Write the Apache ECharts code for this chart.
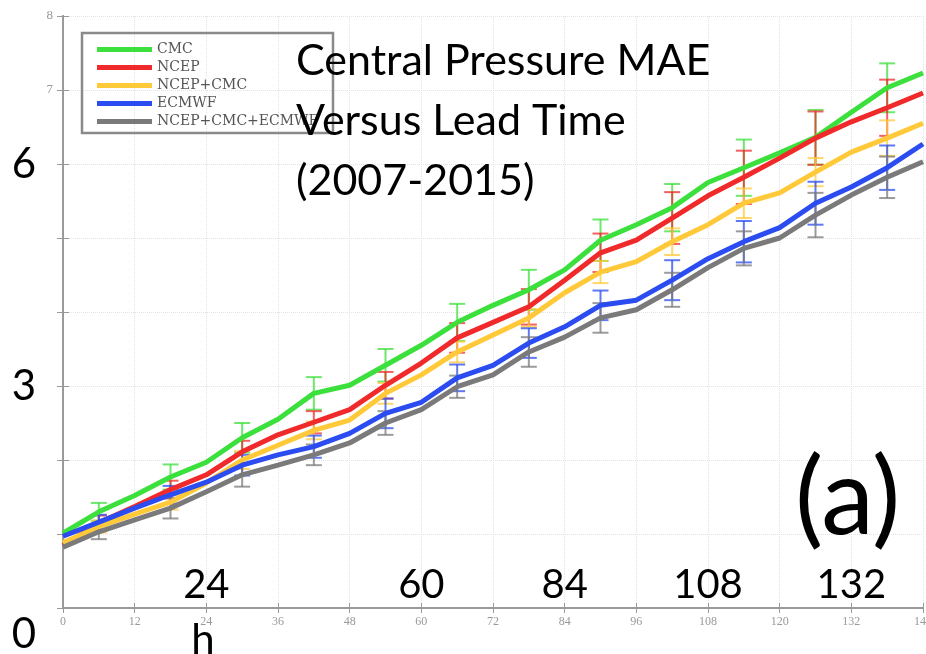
<!DOCTYPE html>
<html>
<head>
<meta charset="utf-8">
<script src="https://cdn.jsdelivr.net/npm/echarts@6/dist/echarts.min.js"></script>
<style>
html, body { margin: 0; padding: 0; background: #fff; }
#chart { width: 926px; height: 654px; }
</style>
</head>
<body>
<div id="chart"></div>
<script>
// lead time in hours, one point every 6 h
var leadTimes = [0, 6, 12, 18, 24, 30, 36, 42, 48, 54, 60, 66, 72, 78, 84, 90, 96, 102, 108, 114, 120, 126, 132, 138, 144];
var cmc      = [1.01, 1.30, 1.52, 1.77, 1.97, 2.30, 2.55, 2.90, 3.01, 3.28, 3.55, 3.86, 4.09, 4.30, 4.57, 4.97, 5.18, 5.41, 5.75, 5.95, 6.15, 6.36, 6.70, 7.03, 7.23];
var ncep     = [0.84, 1.15, 1.37, 1.60, 1.80, 2.11, 2.34, 2.51, 2.68, 3.01, 3.31, 3.65, 3.86, 4.07, 4.43, 4.80, 4.97, 5.27, 5.57, 5.82, 6.08, 6.35, 6.57, 6.76, 6.96];
var ncepCmc  = [0.88, 1.10, 1.27, 1.43, 1.69, 2.00, 2.20, 2.40, 2.54, 2.90, 3.15, 3.46, 3.69, 3.92, 4.26, 4.54, 4.68, 4.95, 5.18, 5.47, 5.61, 5.89, 6.16, 6.35, 6.55];
var ecmwf    = [0.97, 1.16, 1.35, 1.53, 1.70, 1.93, 2.07, 2.18, 2.36, 2.63, 2.78, 3.11, 3.28, 3.58, 3.80, 4.09, 4.16, 4.43, 4.72, 4.95, 5.14, 5.47, 5.69, 5.95, 6.27];
var ensemble = [0.82, 1.03, 1.19, 1.35, 1.57, 1.80, 1.93, 2.07, 2.23, 2.50, 2.68, 2.99, 3.15, 3.46, 3.66, 3.92, 4.03, 4.30, 4.60, 4.86, 5.00, 5.31, 5.58, 5.82, 6.03];

// error bars (half length) drawn every 12 h starting at 6 h
var errTimes    = [6, 18, 30, 42, 54, 66, 78, 90, 102, 114, 126, 138];
var errCmc      = [0.12, 0.17, 0.20, 0.22, 0.22, 0.25, 0.27, 0.28, 0.32, 0.38, 0.37, 0.33];
var errNcep     = [0.10, 0.12, 0.15, 0.15, 0.18, 0.20, 0.24, 0.26, 0.35, 0.36, 0.36, 0.38];
var errNcepCmc  = [0.08, 0.10, 0.12, 0.12, 0.14, 0.14, 0.12, 0.15, 0.18, 0.20, 0.19, 0.24];
var errEcmwf    = [0.10, 0.12, 0.14, 0.15, 0.20, 0.18, 0.20, 0.20, 0.27, 0.28, 0.29, 0.30];
var errEnsemble = [0.10, 0.14, 0.16, 0.14, 0.16, 0.15, 0.20, 0.20, 0.23, 0.23, 0.30, 0.28];

var names  = ['CMC', 'NCEP', 'NCEP+CMC', 'ECMWF', 'NCEP+CMC+ECMWF'];
var colors = ['#3ce03c', '#f02a2a', '#ffc93a', '#2a4cf0', '#7a7a7a'];
var values = [cmc, ncep, ncepCmc, ecmwf, ensemble];
var errors = [errCmc, errNcep, errNcepCmc, errEcmwf, errEnsemble];

// overlay labels pasted on top of the figure
var titleLines = ['Central Pressure MAE', 'Versus Lead Time', '(2007-2015)'];
var bigXLabels = [24, 60, 84, 108, 132];
var bigYLabels = [6, 3, 0];

var myChart = echarts.init(document.getElementById('chart'));

var series = [];
names.forEach(function (name, i) {
	series.push({
		name: name,
		type: 'line',
		data: leadTimes.map(function (h, k) { return [h, values[i][k]]; }),
		showSymbol: false,
		lineStyle: { width: 5, color: colors[i] },
		itemStyle: { color: colors[i] },
		z: 3 + i
	});
});
names.forEach(function (name, i) {
	series.push({
		name: name,
		type: 'custom',
		data: errTimes.map(function (h, k) {
			return [h, values[i][leadTimes.indexOf(h)], errors[i][k]];
		}),
		renderItem: function (params, api) {
			var x = api.value(0), y = api.value(1), e = api.value(2);
			var top = api.coord([x, y + e]);
			var bot = api.coord([x, y - e]);
			var w = 8;
			var st = { stroke: colors[i], lineWidth: 2, opacity: 0.75 };
			return {
				type: 'group',
				children: [
					{ type: 'line', shape: { x1: top[0], y1: top[1], x2: bot[0], y2: bot[1] }, style: st },
					{ type: 'line', shape: { x1: top[0] - w, y1: top[1], x2: top[0] + w, y2: top[1] }, style: st },
					{ type: 'line', shape: { x1: bot[0] - w, y1: bot[1], x2: bot[0] + w, y2: bot[1] }, style: st }
				]
			};
		},
		itemStyle: { color: colors[i] },
		z: 2
	});
});

var axisGray = '#9a9a9a';
option = {
	animation: false,
	color: colors,
	grid: { left: 63, right: 3, top: 16, bottom: 46, containLabel: false, outerBoundsMode: 'none' },
	legend: {
		orient: 'vertical',
		left: 92,
		top: 37,
		itemWidth: 55,
		itemHeight: 5,
		itemGap: 3,
		data: names.map(function (n) { return { name: n, icon: 'rect' }; }),
		textStyle: { fontFamily: 'DejaVu Serif', fontSize: 14, color: '#555', lineHeight: 15 }
	},
	xAxis: [{
		type: 'value',
		min: 0,
		max: 144,
		interval: 12,
		axisLine: { lineStyle: { color: axisGray, width: 2 } },
		axisTick: { inside: true, length: 5, lineStyle: { color: axisGray } },
		axisLabel: { fontFamily: 'Liberation Serif', fontSize: 12, color: '#999', margin: 8 },
		splitLine: { show: true, lineStyle: { color: '#e3e3e3', type: 'dotted' } }
	}, {
		type: 'value',
		position: 'top',
		min: 0,
		max: 144,
		interval: 12,
		axisLine: { show: true, lineStyle: { color: axisGray, width: 2 } },
		axisTick: { show: true, inside: true, length: 5, lineStyle: { color: axisGray } },
		axisLabel: { show: false },
		splitLine: { show: false }
	}],
	yAxis: [{
		type: 'value',
		min: 0,
		max: 8,
		interval: 1,
		axisLine: { show: true, lineStyle: { color: axisGray, width: 2 } },
		axisTick: { show: true, inside: true, length: 6, lineStyle: { color: axisGray } },
		axisLabel: {
			fontFamily: 'Liberation Serif', fontSize: 13, color: '#999', margin: 10,
			formatter: function (v) { return v >= 7 ? String(v) : ''; }
		},
		splitLine: { show: true, lineStyle: { color: '#e3e3e3', type: 'dotted' } }
	}, {
		type: 'value',
		position: 'right',
		min: 0,
		max: 8,
		interval: 1,
		axisLine: { show: true, lineStyle: { color: axisGray, width: 2 } },
		axisTick: { show: true, inside: true, length: 6, lineStyle: { color: axisGray } },
		axisLabel: { show: false },
		splitLine: { show: false }
	}],
	series: series
};
myChart.setOption(option);

// overlay text and legend frame
var big = { fontFamily: 'Lato', fill: '#000' };
var graphics = [{
	type: 'rect',
	shape: { x: 82, y: 33, width: 251, height: 100 },
	style: { fill: 'none', stroke: '#8a8a8a', lineWidth: 2.5 },
	z: 50
}];
titleLines.forEach(function (t, k) {
	graphics.push({
		type: 'text', left: 296, top: 40 + k * 60, z: 100,
		style: Object.assign({ text: t, fontSize: 43 }, big)
	});
});
bigXLabels.forEach(function (v) {
	var px = myChart.convertToPixel({ xAxisIndex: 0 }, v);
	graphics.push({
		type: 'text', x: px, y: 585, z: 100,
		style: Object.assign({ text: String(v), fontSize: 40, align: 'center', verticalAlign: 'middle' }, big)
	});
});
bigYLabels.forEach(function (v) {
	var py = myChart.convertToPixel({ yAxisIndex: 0 }, v);
	if (v === 0) py += 26;
	graphics.push({
		type: 'text', x: 24, y: py, z: 100,
		style: Object.assign({ text: String(v), fontSize: 42, align: 'center', verticalAlign: 'middle' }, big)
	});
});
graphics.push({
	type: 'text', x: 203, y: 640, z: 100,
	style: Object.assign({ text: 'h', fontSize: 42, align: 'center', verticalAlign: 'middle' }, big)
});
graphics.push({
	type: 'text', x: 795, y: 500, z: 100,
	style: Object.assign({ text: '(a)', fontSize: 106, align: 'left', verticalAlign: 'middle' }, big)
});
myChart.setOption({ graphic: graphics });

window.addEventListener('resize', function () {
	myChart.resize();
});
</script>
</body>
</html>
